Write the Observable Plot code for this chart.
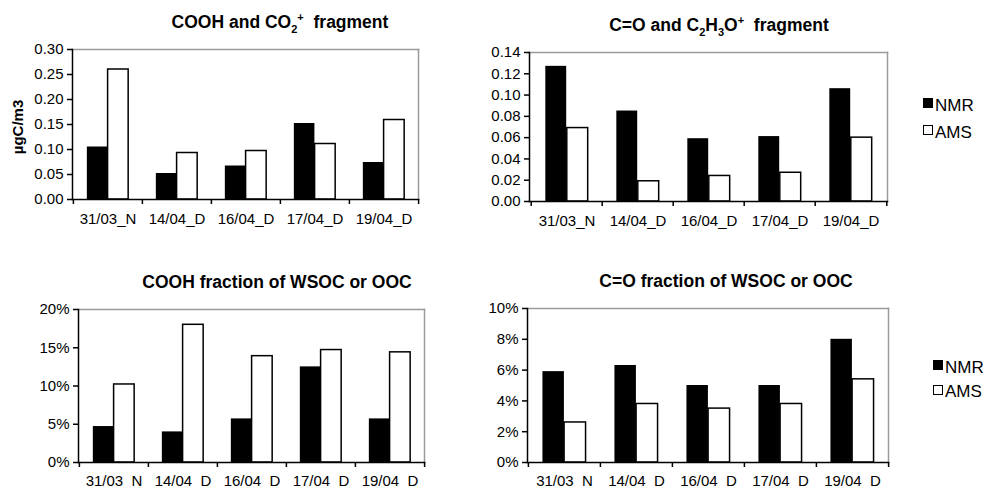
<!DOCTYPE html>
<html><head><meta charset="utf-8">
<script src="https://cdn.jsdelivr.net/npm/d3@7"></script>
<script src="https://cdn.jsdelivr.net/npm/@observablehq/plot@0.6"></script>
<style>
body{margin:0;background:#fff;}
#root{position:relative;width:992px;height:488px;overflow:hidden;font-family:"Liberation Sans",Arial,sans-serif;color:#000;background:#fff;}
.panel{position:absolute;}
.title{position:absolute;width:420px;text-align:center;font-weight:bold;font-size:17.5px;line-height:20px;white-space:pre;}
.title sub,.title sup{font-size:11px;line-height:0;}
.sq{position:absolute;width:10px;height:10px;box-sizing:border-box;border:1.5px solid #000;}
.lt{position:absolute;font-size:17px;line-height:17px;white-space:nowrap;}
.ylab{position:absolute;font-weight:bold;font-size:15px;line-height:16px;white-space:nowrap;transform:translate(-50%,-50%) rotate(-90deg);}
</style></head><body><div id="root"></div>
<script>
// ---- data ----
const dates = ["31/03_N", "14/04_D", "16/04_D", "17/04_D", "19/04_D"];
const series = ["NMR", "AMS"];
const seriesFill = ["#000", "#fff"];

// COOH and CO2+ fragment (µgC/m3)
const coohNMR = [0.105, 0.052, 0.067, 0.152, 0.074];
const coohAMS = [0.260, 0.093, 0.097, 0.111, 0.159];
// C=O and C2H3O+ fragment (µgC/m3)
const coNMR = [0.127, 0.085, 0.059, 0.061, 0.106];
const coAMS = [0.069, 0.019, 0.024, 0.027, 0.060];
// COOH fraction of WSOC or OOC
const coohFracNMR = [0.047, 0.040, 0.057, 0.125, 0.057];
const coohFracAMS = [0.102, 0.180, 0.139, 0.147, 0.144];
// C=O fraction of WSOC or OOC
const coFracNMR = [0.059, 0.063, 0.050, 0.050, 0.080];
const coFracAMS = [0.026, 0.038, 0.035, 0.038, 0.054];

const ticksTL = [0, 0.05, 0.10, 0.15, 0.20, 0.25, 0.30];
const ticksTR = [0, 0.02, 0.04, 0.06, 0.08, 0.10, 0.12, 0.14];
const ticksBL = [0, 0.05, 0.10, 0.15, 0.20];
const ticksBR = [0, 0.02, 0.04, 0.06, 0.08, 0.10];

const titles = [
  "COOH and CO<sub>2</sub><sup>+</sup>  fragment",
  "C=O and C<sub>2</sub>H<sub>3</sub>O<sup>+</sup>  fragment",
  "COOH fraction of WSOC or OOC",
  "C=O fraction of WSOC or OOC"
];
const yLabel = "µgC/m3";

const root = document.getElementById("root");

function panel(o) {
  const step = (o.width - o.ml - o.mr) / dates.length;
  const bw = step * 0.3;
  const rows = dates.map((d, i) => ({date: d, nmr: o.nmr[i], ams: o.ams[i]}));
  const svg = Plot.plot({
    width: o.width, height: o.height,
    marginLeft: o.ml, marginRight: o.mr, marginTop: o.mt, marginBottom: o.mb,
    style: {fontFamily: "Liberation Sans, Arial, sans-serif", fontSize: "15px", color: "#000", background: "transparent", overflow: "visible"},
    x: {type: "band", domain: dates, padding: 0},
    y: {domain: [0, o.yMax]},
    marks: [
      Plot.frame({anchor: "top", stroke: "#9a9a9a", strokeWidth: 1.5}),
      Plot.frame({anchor: "right", stroke: "#9a9a9a", strokeWidth: 1.5}),
      Plot.barY(rows, {x: "date", y: "nmr", fill: seriesFill[0], insetLeft: step / 2 - bw, insetRight: step / 2}),
      Plot.barY(rows, {x: "date", y: "ams", fill: seriesFill[1], stroke: "#000", strokeWidth: 1.5, insetLeft: step / 2, insetRight: step / 2 - bw}),
      Plot.frame({anchor: "left", stroke: "#000", strokeWidth: 1.5}),
      Plot.frame({anchor: "bottom", stroke: "#000", strokeWidth: 1.5}),
      Plot.axisY({ticks: o.yTicks, tickFormat: o.fmt, tickSize: 5, tickPadding: 4, label: null, fontSize: 15, strokeWidth: 1.5}),
      Plot.axisX({tickSize: 0, tickPadding: o.labelPad, label: null, fontSize: 15}),
      Plot.axisX({tickSize: 5, fill: "none", dx: -step / 2, label: null, strokeWidth: 1.5}),
      Plot.axisX({ticks: [dates[dates.length - 1]], tickSize: 5, fill: "none", dx: step / 2, label: null, strokeWidth: 1.5})
    ]
  });
  svg.classList.add("panel");
  svg.style.left = o.left + "px";
  svg.style.top = o.top + "px";
  root.appendChild(svg);
}

function title(html, cx, top) {
  const d = document.createElement("div");
  d.className = "title";
  d.innerHTML = html;
  d.style.left = (cx - 210) + "px";
  d.style.top = top + "px";
  root.appendChild(d);
}

function legend(x, tops) {
  series.forEach((s, i) => {
    const sq = document.createElement("div");
    sq.className = "sq";
    sq.style.left = x + "px";
    sq.style.top = tops[i] + "px";
    sq.style.background = seriesFill[i];
    root.appendChild(sq);
    const t = document.createElement("div");
    t.className = "lt";
    t.textContent = s;
    t.style.left = (x + 12) + "px";
    t.style.top = (tops[i] - 1.5) + "px";
    root.appendChild(t);
  });
}

const f2 = d3.format(".2f");
const fp = d3.format(".0%");

panel({left: 0, top: 0, width: 430, height: 230, ml: 72, mr: 12, mt: 49, mb: 31, nmr: coohNMR, ams: coohAMS, yMax: 0.30, yTicks: ticksTL, fmt: f2, labelPad: 13.5});
panel({left: 460, top: 0, width: 440, height: 232, ml: 69, mr: 13, mt: 52, mb: 31, nmr: coNMR, ams: coAMS, yMax: 0.14, yTicks: ticksTR, fmt: f2, labelPad: 13.5});
panel({left: 0, top: 250, width: 436, height: 238, ml: 78, mr: 12, mt: 59, mb: 26, nmr: coohFracNMR, ams: coohFracAMS, yMax: 0.20, yTicks: ticksBL, fmt: fp, labelPad: 12.5});
panel({left: 460, top: 250, width: 440, height: 238, ml: 67, mr: 12, mt: 58, mb: 26, nmr: coFracNMR, ams: coFracAMS, yMax: 0.10, yTicks: ticksBR, fmt: fp, labelPad: 12.5});

title(titles[0], 280, 12);
title(titles[1], 719, 15);
title(titles[2], 277, 272);
title(titles[3], 726, 271);

legend(923, [98, 125]);
legend(933, [360, 384.5]);

const yl = document.createElement("div");
yl.className = "ylab";
yl.textContent = yLabel;
yl.style.left = "18px";
yl.style.top = "127px";
root.appendChild(yl);
</script>
</body></html>
